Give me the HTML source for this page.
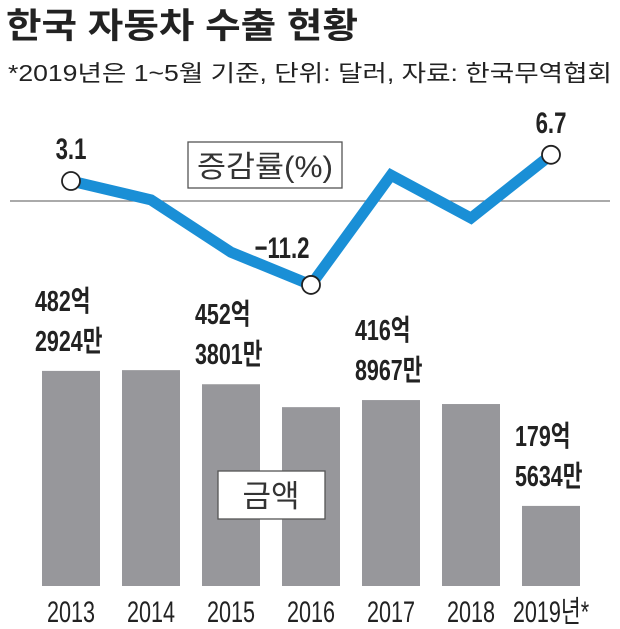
<!DOCTYPE html>
<html><head><meta charset="utf-8"><style>
body{margin:0;background:#fff;}
svg{display:block;font-family:"Liberation Sans","Noto Sans CJK KR",sans-serif;}
</style></head><body>
<svg width="620" height="629" viewBox="0 0 620 629">
<text x="6" y="38" font-size="35" font-weight="bold" fill="#222" textLength="352" lengthAdjust="spacingAndGlyphs">한국 자동차 수출 현황</text>
<text x="8" y="81" font-size="23" fill="#222" textLength="604" lengthAdjust="spacingAndGlyphs">*2019년은 1~5월 기준, 단위: 달러, 자료: 한국무역협회</text>
<line x1="10" y1="201" x2="610" y2="201" stroke="#777" stroke-width="1.3"/>
<rect x="188" y="142" width="154" height="46" fill="#fff" stroke="#555" stroke-width="1.3"/>
<text x="265" y="177" font-size="30" text-anchor="middle" fill="#333" textLength="136" lengthAdjust="spacingAndGlyphs">증감률(%)</text>
<g id="bars"></g>
<g id="line"></g>
<rect x="218" y="471" width="107" height="48" fill="#fff" stroke="#555" stroke-width="1.3"/>
<text x="271" y="507" font-size="31" text-anchor="middle" fill="#333">금액</text>
<g id="labels"></g>
</svg>
<script>
const years=["2013","2014","2015","2016","2017","2018","2019년*"];
const amounts=[482.29,484,452.38,401,416.9,408,179.56];
const rates=[3.1,0.5,-6.7,-11.2,3.9,-2.0,6.7];
const amountLabels=[["482억","2924만"],null,["452억","3801만"],null,["416억","8967만"],null,["179억","5634만"]];
const rateLabels=["3.1",null,null,"-11.2",null,null,"6.7"];
const NS="http://www.w3.org/2000/svg";
function xc(i){return 71+i*80;}
function yb(v){return 586-v*0.446;}
function yr(v){return 203.5-v*7.27;}
function mk(t,a,p){const e=document.createElementNS(NS,t);for(const k in a)e.setAttribute(k,a[k]);p.appendChild(e);return e;}
const bars=document.getElementById('bars'),line=document.getElementById('line'),labels=document.getElementById('labels');
amounts.forEach((v,i)=>{
 const r=mk('rect',{x:xc(i)-29,y:yb(v),width:58,height:586-yb(v),fill:'#97979b'},bars);
 
 
 const t=mk('text',{x:xc(i),y:622,'font-size':30,'text-anchor':'middle',fill:'#222',transform:`translate(${xc(i)} 0) scale(0.72 1) translate(${-xc(i)} 0)`},labels);
 t.textContent=years[i];
 
 
 if(amountLabels[i]){
  const y=yb(v);
  amountLabels[i].forEach((s,j)=>{
   const lx=xc(i)-36;
   const tt=mk('text',{x:lx,y:y-60+j*40,'font-size':29,'font-weight':'bold',fill:'#222',transform:`translate(${lx} 0) scale(0.74 1) translate(${-lx} 0)`},labels);
   tt.textContent=s;
   
   
  });
 }
});
const pts=rates.map((v,i)=>xc(i)+','+yr(v)).join(' ');
const pl=mk('polyline',{points:pts,fill:'none',stroke:'#1a8fd6','stroke-width':11,'stroke-linejoin':'miter'},line);


rates.forEach((v,i)=>{
 if(rateLabels[i]===null)return;
 const c=mk('circle',{cx:xc(i),cy:yr(v),r:9,fill:'#fff',stroke:'#222','stroke-width':1.8},line);
 
 
 const lx=i===3?xc(i)-29:xc(i);
 const t=mk('text',{x:lx,y:yr(v)-(i===3?27:22),'font-size':30,'font-weight':'bold','text-anchor':'middle',fill:'#222',transform:`translate(${lx} 0) scale(0.74 1) translate(${-lx} 0)`},line);
 t.textContent=rateLabels[i].replace('-','−');
 
 
});
</script>
</body></html>
